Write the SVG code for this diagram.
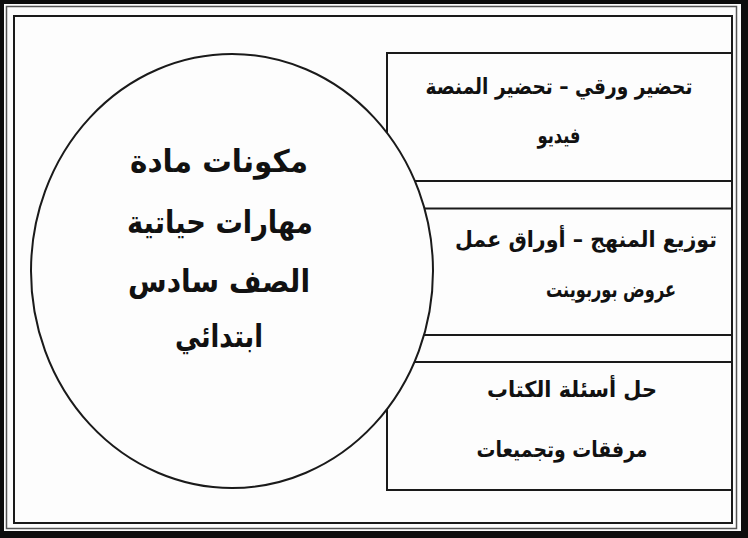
<svg xmlns="http://www.w3.org/2000/svg" width="748" height="538" viewBox="0 0 748 538">
<style>
.ln{fill:none;stroke:#1a1a1a;stroke-width:2}
.t{font-family:"DejaVu Sans",sans-serif;fill:#111;text-anchor:middle;direction:rtl}
.big{font-size:31px;font-weight:bold}
.sm{font-size:22px;font-weight:bold}
</style>
<rect x="0" y="0" width="748" height="538" fill="#0d0d0d"/>
<rect x="4" y="4" width="737" height="527" fill="#fdfdfd"/>
<rect x="6.5" y="6.5" width="730" height="522" fill="none" stroke="#555" stroke-width="1.5"/>
<rect x="14" y="16" width="718" height="507" class="ln" stroke-width="2.5"/>
<g id="box1">
<rect x="387" y="53" width="345" height="128" class="ln"/>
<text class="t sm" x="559" y="94" textLength="267" lengthAdjust="spacingAndGlyphs">تحضير ورقي – تحضير المنصة</text>
<text class="t sm" x="559" y="143" textLength="43" lengthAdjust="spacingAndGlyphs">فيديو</text>
</g>
<g id="box2">
<rect x="387" y="208.5" width="345" height="126.5" class="ln"/>
<text class="t sm" x="586" y="247" textLength="262" lengthAdjust="spacingAndGlyphs">توزيع المنهج  – أوراق عمل</text>
<text class="t sm" x="611" y="297" textLength="130" lengthAdjust="spacingAndGlyphs">عروض بوربوينت</text>
</g>
<g id="box3">
<rect x="387" y="362" width="345" height="128" class="ln"/>
<text class="t sm" x="572" y="397" textLength="170" lengthAdjust="spacingAndGlyphs">حل أسئلة الكتاب</text>
<text class="t sm" x="562" y="457" textLength="171" lengthAdjust="spacingAndGlyphs">مرفقات وتجميعات</text>
</g>
<g id="center">
<ellipse cx="232" cy="271" rx="201" ry="217" fill="#fdfdfd" stroke="#1a1a1a" stroke-width="2"/>
<text class="t big" x="219" y="172" textLength="178" lengthAdjust="spacingAndGlyphs">مكونات مادة</text>
<text class="t big" x="220" y="233" textLength="186" lengthAdjust="spacingAndGlyphs">مهارات حياتية</text>
<text class="t big" x="219" y="292" textLength="182" lengthAdjust="spacingAndGlyphs">الصف سادس</text>
<text class="t big" x="219" y="347" textLength="88" lengthAdjust="spacingAndGlyphs">ابتدائي</text>
</g>
<g id="connectors"/>
</svg>
